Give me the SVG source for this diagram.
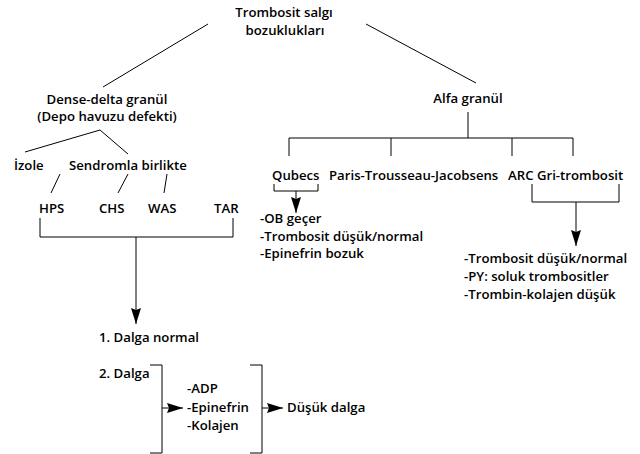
<svg xmlns="http://www.w3.org/2000/svg" width="640" height="454" viewBox="0 0 640 454">
<defs>
<style>
text{font-family:"Open Sans",Lato,"DejaVu Sans",sans-serif;font-weight:600;font-size:13.2px;fill:#000}
.m{text-anchor:middle}
.l{stroke:#000;stroke-width:1;fill:none}
</style>
<marker id="av" viewBox="0 0 16 10" refX="16" refY="5" markerWidth="16" markerHeight="10" markerUnits="userSpaceOnUse" orient="auto"><path d="M0,0L16,5L0,10L2,5z" fill="#000"/></marker>
</defs>
<rect width="640" height="454" fill="#fff"/>
<g id="connectors" class="l">
<line x1="208" y1="24" x2="103" y2="87"/>
<line x1="366" y1="24" x2="476" y2="83"/>
<polyline points="25,152 100,130 128,154"/>
<line x1="60" y1="174" x2="51" y2="193"/>
<line x1="128" y1="174" x2="118" y2="193"/>
<line x1="167" y1="174" x2="164" y2="193"/>
<polyline points="40,218 40,237 233,237 233,218"/>
<line x1="136" y1="237" x2="136" y2="324" marker-end="url(#av)"/>
<polyline points="150,365 162,365 162,453 150,453"/>
<line x1="162" y1="408" x2="183" y2="408" marker-end="url(#av)"/>
<polyline points="250,365 262,365 262,453 250,453"/>
<line x1="262" y1="408" x2="283" y2="408" marker-end="url(#av)"/>
<line x1="468" y1="112" x2="468" y2="138"/>
<line x1="289" y1="138" x2="573" y2="138"/>
<line x1="289" y1="138" x2="289" y2="156"/>
<line x1="391" y1="138" x2="391" y2="156"/>
<line x1="512" y1="138" x2="512" y2="156"/>
<line x1="573" y1="138" x2="573" y2="156"/>
<polyline points="274,184 274,191 318,191 318,184"/>
<line x1="296" y1="191" x2="296" y2="213" marker-end="url(#av)"/>
<polyline points="532,184 532,202 619,202 619,184"/>
<line x1="576" y1="202" x2="576" y2="246" marker-end="url(#av)"/>
</g>
<g id="root"><text class="m" x="284" y="17">Trombosit salgı</text><text class="m" x="285" y="35">bozuklukları</text></g>
<g id="dense"><text class="m" x="107" y="104">Dense-delta granül</text><text class="m" x="107" y="121">(Depo havuzu defekti)</text></g>
<g id="izole"><text x="14" y="170">İzole</text></g>
<g id="sendrom"><text x="69" y="170">Sendromla birlikte</text></g>
<g id="hps"><text x="39" y="213">HPS</text></g>
<g id="chs"><text x="99" y="213">CHS</text></g>
<g id="was"><text x="148" y="213">WAS</text></g>
<g id="tar"><text x="214" y="213">TAR</text></g>
<g id="dalga1"><text x="99" y="342">1. Dalga normal</text></g>
<g id="dalga2"><text x="99" y="378">2. Dalga</text></g>
<g id="agonist"><text x="187" y="393">-ADP</text><text x="187" y="412">-Epinefrin</text><text x="187" y="430">-Kolajen</text></g>
<g id="dusuk"><text x="287" y="412">Düşük dalga</text></g>
<g id="alfa"><text class="m" x="468" y="103">Alfa granül</text></g>
<g id="qubecs"><text x="272" y="180">Qubecs</text></g>
<g id="paris"><text x="329" y="180">Paris-Trousseau-Jacobsens</text></g>
<g id="arc"><text x="508" y="180">ARC Gri-trombosit</text></g>
<g id="qubecs-findings"><text x="260" y="223">-OB geçer</text><text x="260" y="241">-Trombosit düşük/normal</text><text x="260" y="258">-Epinefrin bozuk</text></g>
<g id="arc-findings"><text x="464" y="263">-Trombosit düşük/normal</text><text x="464" y="281">-PY: soluk trombositler</text><text x="464" y="299">-Trombin-kolajen düşük</text></g>
</svg>
